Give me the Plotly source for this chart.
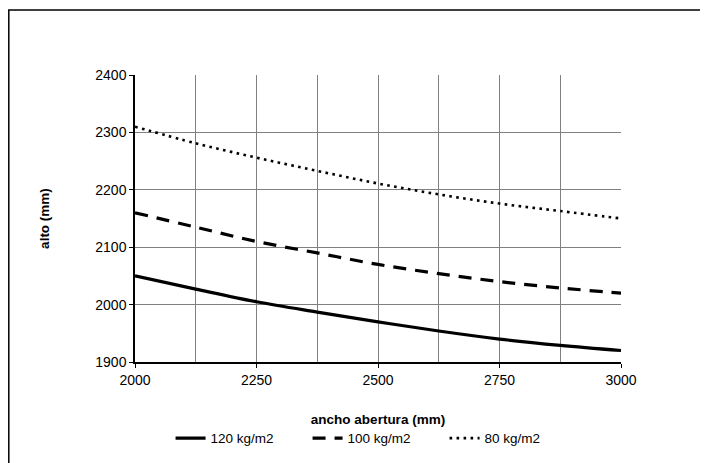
import plotly.graph_objects as go

# ancho abertura (mm)
ancho = [2000, 2125, 2250, 2375, 2500, 2625, 2750, 2875, 3000]

# alto (mm) per load
alto_120 = [2050, 2027, 2005, 1987, 1970, 1954, 1940, 1929, 1920]
alto_100 = [2160, 2135, 2110, 2090, 2070, 2054, 2040, 2029, 2020]
alto_80 = [2310, 2281, 2256, 2233, 2211, 2192, 2176, 2163, 2150]

series_names = ["120 kg/m2", "100 kg/m2", "80 kg/m2"]

fig = go.Figure()

fig.add_trace(go.Scatter(x=ancho, y=alto_120, name=series_names[0], mode="lines",
                         line=dict(color="black", width=3.2, shape="spline")))
fig.add_trace(go.Scatter(x=ancho, y=alto_100, name=series_names[1], mode="lines",
                         line=dict(color="black", width=3.2, dash="13px,9px", shape="spline")))
fig.add_trace(go.Scatter(x=ancho, y=alto_80, name=series_names[2], mode="lines",
                         line=dict(color="black", width=2.6, dash="2.6px,4.4px", shape="spline")))

# outer chart border (runs past the right and bottom edges)
fig.add_shape(type="rect", xref="paper", yref="paper",
              x0=(0.8 - 127) / 486, x1=1.3, y0=-0.5, y1=1 + (67 - 2) / 287,
              line=dict(color="black", width=1.5), fillcolor="rgba(0,0,0,0)", layer="below")

fig.update_layout(
    width=708, height=463,
    margin=dict(l=127, r=95, t=67, b=109, autoexpand=False),
    paper_bgcolor="white",
    plot_bgcolor="white",
    font=dict(family="Liberation Sans, Arial, sans-serif", size=14, color="black"),
    showlegend=True,
    legend=dict(orientation="h", x=0.496, xanchor="center", y=-0.212, yanchor="top",
                font=dict(size=13.5), bgcolor="rgba(0,0,0,0)",
                entrywidth=92, entrywidthmode="pixels"),
)

fig.update_xaxes(
    range=[2000, 3000], tickvals=[2000, 2250, 2500, 2750, 3000],
    showgrid=True, gridcolor="#808080", gridwidth=1,
    minor=dict(tickvals=[2125, 2375, 2625, 2875], showgrid=True, gridcolor="#808080", gridwidth=1),
    showline=True, linecolor="black", linewidth=1.5,
    ticks="outside", ticklen=4, tickcolor="black",
    zeroline=False, tickfont=dict(size=14),
    title=dict(text="<b>ancho abertura (mm)</b>", standoff=28, font=dict(size=13.5)),
)
fig.update_yaxes(
    range=[1900, 2400], dtick=100,
    showgrid=True, gridcolor="#808080", gridwidth=1,
    showline=True, linecolor="black", linewidth=1.5,
    ticks="outside", ticklen=4, tickcolor="black",
    zeroline=False, tickfont=dict(size=14),
    title=dict(text="<b>alto (mm)</b>", standoff=43, font=dict(size=13.5)),
)

fig.write_html("out.html")
